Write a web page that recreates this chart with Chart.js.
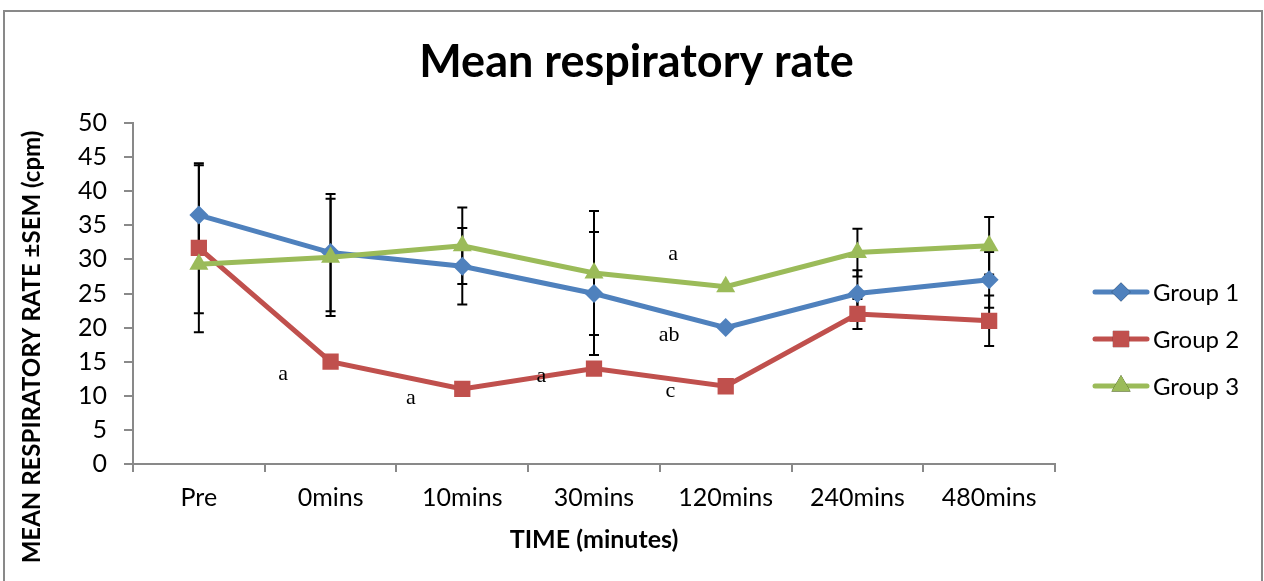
<!DOCTYPE html>
<html lang="en">
<head>
<meta charset="UTF-8">
<title>Mean respiratory rate</title>
<script src="https://cdn.jsdelivr.net/npm/chart.js"></script>
<style>
    body { margin: 0; background: #fff; }
    #wrap { position: relative; width: 1264px; height: 581px; overflow: hidden; }
    #frame { position: absolute; left: 3px; top: 10px; width: 1256px; height: 700px; border: 2px solid #898989; pointer-events: none; }
</style>
</head>
<body>
<div id="wrap">
    <canvas id="myChart" width="1264" height="581"></canvas>
    <div id="frame"></div>
</div>

<script>
    // categories and series
    const labels = ['Pre', '0mins', '10mins', '30mins', '120mins', '240mins', '480mins']
    const group1 = [36.5, 31, 29, 25, 20, 25, 27]
    const group2 = [31.7, 15, 11, 14, 11.4, 22, 21]
    const group3 = [29.3, 30.3, 32, 28, 26, 31, 32]
    // standard error of mean (0 = no bar shown)
    const sem1 = [7.3, 8.6, 5.6, 9.0, 0, 3.4, 4.1]
    const sem2 = [12.4, 0, 0, 0, 0, 2.2, 3.7]
    const sem3 = [7.2, 8.6, 5.6, 9.1, 0, 3.5, 4.2]
    // significance letters: text, category position, value
    const noteText = ['a', 'a', 'a', 'c', 'ab', 'a']
    const noteX = [0.64, 1.61, 2.60, 3.58, 3.57, 3.60]
    const noteY = [13.2, 9.7, 12.8, 10.6, 18.9, 30.8]

    const yTicks = [0, 5, 10, 15, 20, 25, 30, 35, 40, 45, 50]

    const sans = 'Lato, "Open Sans", sans-serif'

    const errorBars = {
        id: 'errorBars',
        beforeDatasetsDraw(chart) {
            const ctx = chart.ctx
            const y = chart.scales.y
            const sems = [sem1, sem2, sem3]
            ctx.save()
            ctx.strokeStyle = '#000'
            ctx.lineWidth = 2
            chart.data.datasets.forEach((ds, i) => {
                const meta = chart.getDatasetMeta(i)
                meta.data.forEach((pt, j) => {
                    const e = sems[i][j]
                    if (!e) return
                    const top = y.getPixelForValue(ds.data[j] + e)
                    const bot = y.getPixelForValue(ds.data[j] - e)
                    ctx.beginPath()
                    ctx.moveTo(pt.x, top); ctx.lineTo(pt.x, bot)
                    ctx.moveTo(pt.x - 5, top); ctx.lineTo(pt.x + 5, top)
                    ctx.moveTo(pt.x - 5, bot); ctx.lineTo(pt.x + 5, bot)
                    ctx.stroke()
                })
            })
            ctx.restore()
        }
    }

    const extras = {
        id: 'extras',
        afterDraw(chart) {
            const ctx = chart.ctx
            const xs = chart.scales.x, ys = chart.scales.y
            ctx.save()
            // letters
            ctx.fillStyle = '#000'
            ctx.font = '22px "Liberation Serif", serif'
            ctx.textAlign = 'center'
            ctx.textBaseline = 'middle'
            noteText.forEach((t, i) => {
                ctx.fillText(t, xs.getPixelForDecimal((noteX[i] + 0.5) / labels.length), ys.getPixelForValue(noteY[i]))
            })
            // y axis title
            ctx.save()
            ctx.translate(32, 347)
            ctx.rotate(-Math.PI / 2)
            ctx.font = 'bold 24px ' + sans
            ctx.fillText('MEAN RESPIRATORY RATE ±SEM (cpm)', 0, 0)
            ctx.restore()
            // legend
            chart.data.datasets.forEach((ds, i) => {
                const cy = 292 + i * 47
                ctx.strokeStyle = ds.borderColor
                ctx.lineWidth = 5
                ctx.lineCap = 'round'
                ctx.beginPath(); ctx.moveTo(1095, cy); ctx.lineTo(1147, cy); ctx.stroke()
                Chart.helpers.drawPoint(ctx, {
                    pointStyle: ds.pointStyle, radius: ds.pointRadius, borderWidth: 0, rotation: 0
                }, 1121, cy)
                ctx.fillStyle = ds.backgroundColor
                ctx.fill()
                ctx.fillStyle = '#000'
                ctx.font = '24px ' + sans
                ctx.textAlign = 'left'
                ctx.fillText(ds.label, 1153, cy + 1)
            })
            ctx.restore()
        }
    }

    const mk = (label, data, color, style, r, order) => ({
        label, data, order,
        borderColor: color,
        backgroundColor: color,
        borderWidth: 5,
        pointStyle: style,
        pointRadius: r,
        pointBorderWidth: 0,
        pointBackgroundColor: color,
        tension: 0
    })

    const config = {
        type: 'line',
        data: {
            labels: labels,
            datasets: [
                mk('Group 1', group1, '#4F81BD', 'rectRot', 9.5, 3),
                mk('Group 2', group2, '#C0504D', 'rect', 11.5, 2),
                mk('Group 3', group3, '#9BBB59', 'triangle', 11, 1)
            ]
        },
        plugins: [errorBars, extras],
        options: {
            responsive: false,
            animation: false,
            layout: { padding: { left: 9, right: 0, top: 0, bottom: 0 } },
            plugins: {
                legend: { display: false },
                tooltip: { enabled: false },
                title: {
                    display: true,
                    text: 'Mean respiratory rate',
                    color: '#000',
                    font: { family: sans, size: 45, weight: 'bold' },
                    padding: { top: 35, bottom: 34 }
                }
            },
            scales: {
                x: {
                    offset: true,
                    grid: { offset: true, drawOnChartArea: false, drawTicks: true, tickLength: 8, color: '#898989', lineWidth: 2 },
                    border: { color: '#898989', width: 2 },
                    ticks: { color: '#000', font: { family: sans, size: 25 }, padding: 11, maxRotation: 0 },
                    title: { display: true, text: 'TIME (minutes)', color: '#000', font: { family: sans, size: 25, weight: 'bold' }, padding: { top: 0, bottom: 26 } },
                    afterFit: s => { s.height = 117 }
                },
                y: {
                    min: 0,
                    max: 50,
                    afterBuildTicks: s => { s.ticks = yTicks.map(v => ({ value: v })) },
                    grid: { drawOnChartArea: false, drawTicks: true, tickLength: 9, color: '#898989', lineWidth: 2 },
                    border: { color: '#898989', width: 2 },
                    ticks: { color: '#000', font: { family: sans, size: 25 }, padding: 17 },
                    afterFit: s => { s.width = 124 }
                },
                // empty right-hand box that keeps room for the legend
                side: {
                    position: 'right',
                    display: true,
                    grid: { display: false },
                    border: { display: false },
                    ticks: { display: false },
                    afterFit: s => { s.width = 209 }
                }
            }
        }
    }

    window.respChart = new Chart(document.getElementById('myChart'), config)
</script>
</body>
</html>
